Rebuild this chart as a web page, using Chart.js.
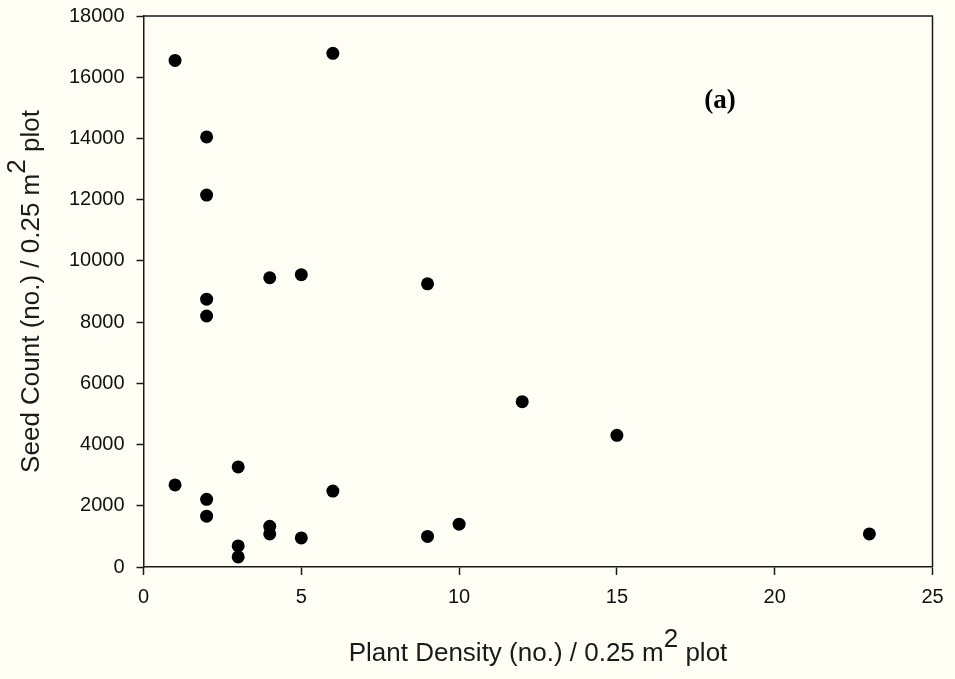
<!DOCTYPE html>
<html>
<head>
<meta charset="utf-8">
<script src="https://cdn.jsdelivr.net/npm/chart.js@4"></script>
<style>
html,body{margin:0;padding:0;background:#FFFEF5;}
#wrap{width:955px;height:679px;}
</style>
</head>
<body>
<div id="wrap"><canvas id="c" width="955" height="679"></canvas></div>
<script>
const plantDensity = [1, 6, 2, 2, 4, 5, 9, 2, 2, 12, 15, 3, 1, 6, 2, 2, 10, 4, 4, 9, 5, 3, 3, 23];
const seedCount = [16550, 16780, 14050, 12150, 9450, 9550, 9250, 8750, 8200, 5400, 4300, 3270, 2680, 2480, 2210, 1660, 1400, 1330, 1080, 1000, 950, 690, 330, 1080];
const xTicks = [0, 5, 10, 15, 20, 25];
const yTicks = [0, 2000, 4000, 6000, 8000, 10000, 12000, 14000, 16000, 18000];
const panelLabel = "(a)";
const xTitleParts = ["Plant Density (no.) / 0.25 m", "2", " plot"];
const yTitleParts = ["Seed Count (no.) / 0.25 m", "2", " plot"];

const points = plantDensity.map((x, i) => ({x: x, y: seedCount[i]}));
const INK = '#1a1a1a';
const SANS = '"Liberation Sans", Arial, sans-serif';

function drawSupTitle(ctx, parts, size, supSize, supRaise) {
  ctx.font = size + 'px ' + SANS;
  const w0 = ctx.measureText(parts[0]).width;
  const w2 = ctx.measureText(parts[2]).width;
  ctx.font = supSize + 'px ' + SANS;
  const w1 = ctx.measureText(parts[1]).width;
  const total = w0 + w1 + w2;
  let x = -total / 2;
  ctx.textAlign = 'left';
  ctx.textBaseline = 'alphabetic';
  ctx.font = size + 'px ' + SANS;
  ctx.fillText(parts[0], x, 0); x += w0;
  ctx.font = supSize + 'px ' + SANS;
  ctx.fillText(parts[1], x, -supRaise); x += w1;
  ctx.font = size + 'px ' + SANS;
  ctx.fillText(parts[2], x, 0);
}

const decor = {
  id: 'decor',
  beforeDraw(chart) {
    const ctx = chart.ctx;
    ctx.save();
    ctx.fillStyle = '#FFFEF5';
    ctx.fillRect(0, 0, chart.width, chart.height);
    ctx.restore();
  },
  afterDraw(chart) {
    const ctx = chart.ctx;
    const a = chart.chartArea;
    ctx.save();
    ctx.strokeStyle = INK;
    ctx.lineWidth = 1.5;
    ctx.beginPath();
    ctx.moveTo(a.left, a.top);
    ctx.lineTo(a.right, a.top);
    ctx.lineTo(a.right, a.bottom);
    ctx.stroke();
    // panel label
    ctx.fillStyle = '#000';
    ctx.font = 'bold 27px "Liberation Serif", "Times New Roman", serif';
    ctx.textAlign = 'center';
    ctx.textBaseline = 'middle';
    ctx.fillText(panelLabel, 720, 101);
    // x title
    ctx.fillStyle = INK;
    ctx.save();
    ctx.translate((a.left + a.right) / 2, 661);
    drawSupTitle(ctx, xTitleParts, 26, 26, 14);
    ctx.restore();
    // y title
    ctx.save();
    ctx.translate(39, (a.top + a.bottom) / 2);
    ctx.rotate(-Math.PI / 2);
    drawSupTitle(ctx, yTitleParts, 26, 26, 14);
    ctx.restore();
    ctx.restore();
  }
};

new Chart(document.getElementById('c'), {
  type: 'scatter',
  data: {
    datasets: [{
      data: points,
      backgroundColor: '#000',
      borderColor: '#000',
      borderWidth: 0,
      pointRadius: 6.5,
      pointHoverRadius: 6.5
    }]
  },
  options: {
    responsive: false,
    animation: false,
    devicePixelRatio: 1,
    layout: {padding: {top: 16, right: 22.5, left: 0, bottom: 0}},
    plugins: {legend: {display: false}, tooltip: {enabled: false}},
    scales: {
      x: {
        type: 'linear',
        min: 0, max: 25,
        afterBuildTicks(s) { s.ticks = xTicks.map(v => ({value: v})); },
        afterFit(s) { s.height = 112; s.paddingLeft = 0; s.paddingRight = 0; },
        border: {display: true, color: INK, width: 1.5},
        grid: {drawOnChartArea: false, drawTicks: true, tickLength: 8, color: INK, tickWidth: 1.5},
        ticks: {color: '#111', font: {family: SANS, size: 20}, padding: 10, maxRotation: 0}
      },
      y: {
        type: 'linear',
        min: 0, max: 18000,
        afterBuildTicks(s) { s.ticks = yTicks.map(v => ({value: v})); },
        afterFit(s) { s.width = 143.5; s.paddingTop = 0; s.paddingBottom = 0; },
        border: {display: true, color: INK, width: 1.5},
        grid: {drawOnChartArea: false, drawTicks: true, tickLength: 7, color: INK, tickWidth: 1.5},
        ticks: {color: '#111', font: {family: SANS, size: 20}, padding: 12, callback: v => String(v)}
      }
    }
  },
  plugins: [decor]
});
</script>
</body>
</html>
